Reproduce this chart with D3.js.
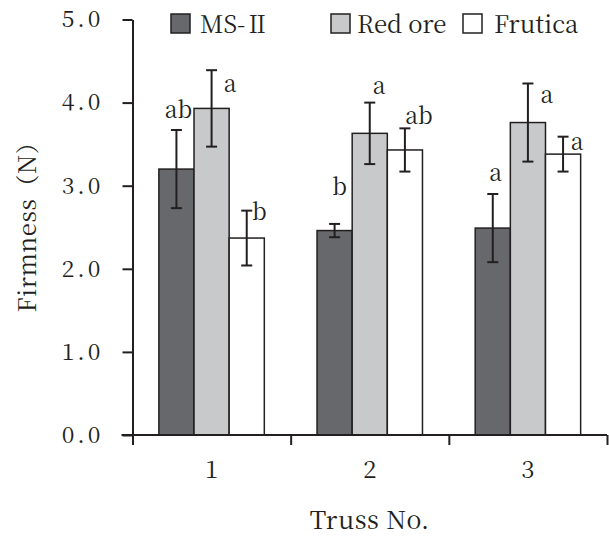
<!DOCTYPE html>
<html>
<head>
<meta charset="utf-8">
<script src="https://cdn.jsdelivr.net/npm/d3@7"></script>
<style>
  body { margin: 0; background: #fff; }
</style>
</head>
<body>
<div id="chart"></div>
<script>
// chart data
var trusses = ["1", "2", "3"];
var seriesNames = ["MS-Ⅱ", "Red ore", "Frutica"];
var msMeans = [3.20, 2.46, 2.49];
var redMeans = [3.93, 3.63, 3.76];
var fruMeans = [2.37, 3.43, 3.38];
var msErr = [0.47, 0.08, 0.41];
var redErr = [0.46, 0.37, 0.47];
var fruErr = [0.33, 0.26, 0.21];
var msLetters = ["ab", "b", "a"];
var redLetters = ["a", "a", "a"];
var fruLetters = ["b", "ab", "a"];
var yTicks = [0, 1, 2, 3, 4, 5];

// layout only: where each letter sits relative to the top of its error bar
var letterNudge = [
  [[2, -12], [5, -29], [3, -13]],
  [[18.5, 21.6], [9.5, -9], [19, 20]],
  [[12.5, 9], [14, -4], [14, 13]]
];
var fills = ["#67686c", "#c8c9cb", "#ffffff"];
var ink = "#231f20";
var serif = "'Noto Serif CJK SC', 'Liberation Serif', serif";

var means = [msMeans, redMeans, fruMeans];
var errs = [msErr, redErr, fruErr];
var letters = [msLetters, redLetters, fruLetters];

var width = 609, height = 536;
var plotLeft = 132.5, plotRight = 607, plotTop = 19.5, plotBottom = 435;

var svg = d3.select("#chart").append("svg")
  .attr("width", width)
  .attr("height", height)
  .style("font-family", serif);

var x0 = d3.scaleBand().domain(trusses).range([plotLeft, plotRight]);
var x1 = d3.scaleBand().domain(seriesNames).range([0, x0.bandwidth()]).paddingOuter(0.75);
var y = d3.scaleLinear().domain([0, 5]).range([plotBottom, plotTop]);

// flatten into one record per bar
var bars = [];
seriesNames.forEach(function(s, si) {
  trusses.forEach(function(t, ti) {
    bars.push({ s: s, si: si, t: t, ti: ti, v: means[si][ti], e: errs[si][ti], l: letters[si][ti] });
  });
});

svg.selectAll("rect.bar")
  .data(bars)
  .enter()
  .append("rect")
  .attr("class", "bar")
  .attr("x", function(d) { return x0(d.t) + x1(d.s); })
  .attr("y", function(d) { return y(d.v); })
  .attr("width", x1.bandwidth())
  .attr("height", function(d) { return y(0) - y(d.v); })
  .attr("fill", function(d) { return fills[d.si]; })
  .attr("stroke", ink)
  .attr("stroke-width", 1.5);

// error bars
var cap = 5.5;
var eg = svg.selectAll("g.err")
  .data(bars)
  .enter()
  .append("g")
  .attr("class", "err")
  .attr("stroke", ink)
  .attr("stroke-width", 2);

function cx(d) { return x0(d.t) + x1(d.s) + x1.bandwidth() / 2; }

eg.append("line")
  .attr("x1", cx).attr("x2", cx)
  .attr("y1", function(d) { return y(d.v + d.e); })
  .attr("y2", function(d) { return y(d.v - d.e); });
eg.append("line")
  .attr("x1", function(d) { return cx(d) - cap; })
  .attr("x2", function(d) { return cx(d) + cap; })
  .attr("y1", function(d) { return y(d.v + d.e); })
  .attr("y2", function(d) { return y(d.v + d.e); });
eg.append("line")
  .attr("x1", function(d) { return cx(d) - cap; })
  .attr("x2", function(d) { return cx(d) + cap; })
  .attr("y1", function(d) { return y(d.v - d.e); })
  .attr("y2", function(d) { return y(d.v - d.e); });

// significance letters
svg.selectAll("text.sig")
  .data(bars)
  .enter()
  .append("text")
  .attr("class", "sig")
  .attr("x", function(d) { return cx(d) + letterNudge[d.si][d.ti][0]; })
  .attr("y", function(d) { return y(d.v + d.e) + letterNudge[d.si][d.ti][1]; })
  .attr("text-anchor", "middle")
  .style("font-family", serif)
  .style("font-size", "23px")
  .attr("fill", ink)
  .text(function(d) { return d.l; });

// y axis
var yAxis = svg.append("g")
  .attr("transform", "translate(" + plotLeft + ",0)")
  .call(d3.axisLeft(y).tickValues(yTicks).tickSizeInner(10).tickSizeOuter(0).tickPadding(19)
    .tickFormat(d3.format(".1f")));
yAxis.attr("font-family", null).attr("font-size", null);
yAxis.selectAll("path, line").attr("stroke", ink).attr("stroke-width", 2);
yAxis.selectAll("text")
  .style("font-family", serif)
  .style("font-size", "23px")
  .attr("letter-spacing", 3)
  .attr("fill", ink);

// x axis: boundary ticks
var xb = d3.scaleLinear().domain([0, 3]).range([plotLeft, plotRight]);
var xAxis = svg.append("g")
  .attr("transform", "translate(0," + plotBottom + ")")
  .call(d3.axisBottom(xb).ticks(3).tickSizeInner(10).tickSizeOuter(0).tickFormat(""));
xAxis.selectAll("path, line").attr("stroke", ink).attr("stroke-width", 2);
xAxis.select("path").attr("d", "M" + (plotLeft - 11) + ",0H" + plotRight);

// x category labels
var xLab = svg.append("g")
  .attr("transform", "translate(0," + plotBottom + ")")
  .call(d3.axisBottom(x0).tickSize(0).tickPadding(26));
xLab.attr("font-family", null).attr("font-size", null);
xLab.select("path").remove();
xLab.selectAll("text")
  .style("font-family", serif)
  .style("font-size", "24px")
  .attr("fill", ink);

// axis titles
svg.append("text")
  .attr("x", (plotLeft + plotRight) / 2)
  .attr("y", 529)
  .attr("text-anchor", "middle")
  .style("font-family", serif)
  .style("font-size", "25px")
  .attr("letter-spacing", 0.5)
  .attr("fill", ink)
  .text("Truss No.");

svg.append("text")
  .attr("transform", "translate(36,221) rotate(-90)")
  .attr("text-anchor", "middle")
  .style("font-family", serif)
  .style("font-size", "24px")
  .attr("letter-spacing", 0.6)
  .attr("fill", ink)
  .text("Firmness（N）");

// legend
var legendX = [171, 331, 463];
var lg = svg.selectAll("g.legend")
  .data(seriesNames)
  .enter()
  .append("g")
  .attr("class", "legend")
  .attr("transform", function(d, i) { return "translate(" + legendX[i] + ",14)"; });
lg.append("rect")
  .attr("width", 19)
  .attr("height", 19)
  .attr("fill", function(d, i) { return fills[i]; })
  .attr("stroke", ink)
  .attr("stroke-width", 1.5);
lg.append("text")
  .attr("x", function(d, i) { return i === 0 ? 29 : i === 1 ? 26 : 31; })
  .attr("y", 19)
  .style("font-family", serif)
  .style("font-size", "24px")
  .attr("fill", ink)
  .text(function(d) { return d; });
</script>
</body>
</html>
